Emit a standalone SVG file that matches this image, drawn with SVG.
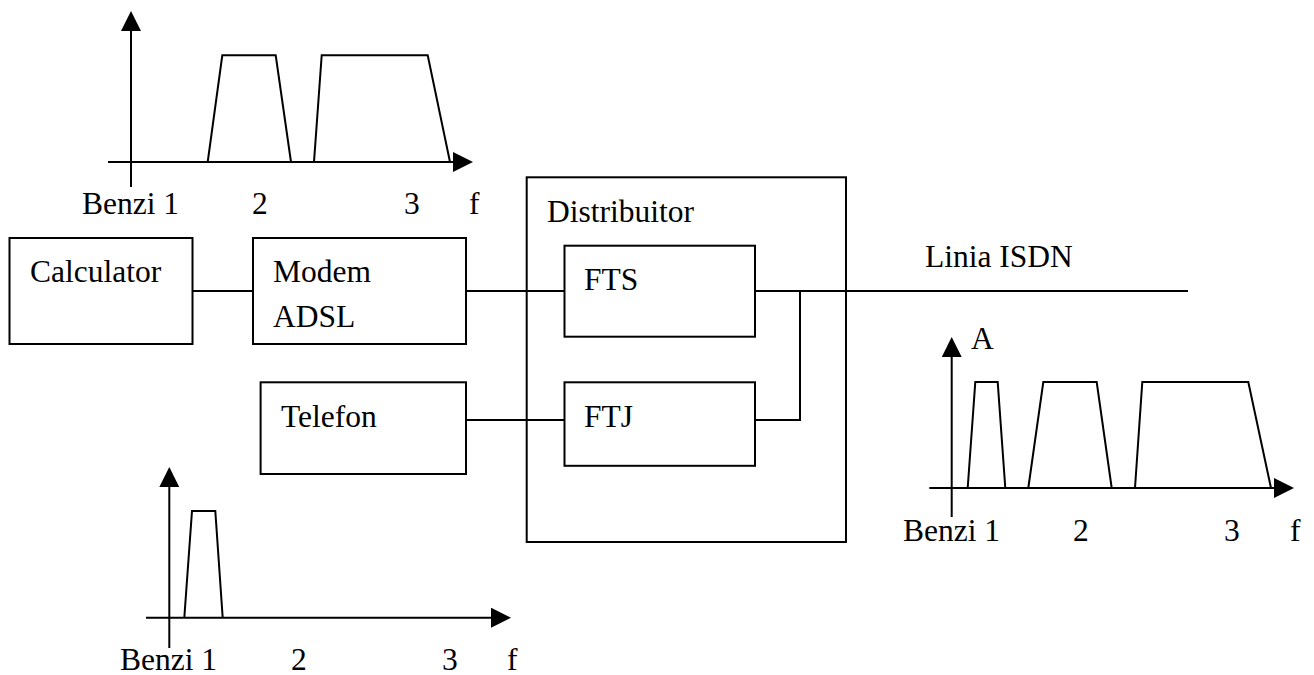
<svg xmlns="http://www.w3.org/2000/svg" width="1314" height="675" viewBox="0 0 1314 675">
<style>
.box{fill:none;stroke:#000;stroke-width:2}
.ln{fill:none;stroke:#000;stroke-width:2}
.ax{fill:none;stroke:#000;stroke-width:2;marker-end:url(#ah)}
text{font-family:"Liberation Serif","Times New Roman",serif;font-size:31.5px;fill:#000}
</style>
<defs>
<marker id="ah" viewBox="0 0 20 20" refX="0" refY="10" markerWidth="20" markerHeight="20" markerUnits="userSpaceOnUse" orient="auto">
<path d="M0,0 L20,10 L0,20 z" fill="#000"/>
</marker>
</defs>
<rect width="1314" height="675" fill="#fff"/>

<g id="spectrum-top">
<line class="ax" x1="131" y1="187" x2="131" y2="31"/>
<line class="ax" x1="108" y1="162" x2="453" y2="162"/>
<polyline class="ln" points="207.7,162 222.3,55.3 275.7,55.3 291,162"/>
<polyline class="ln" points="314,162 321.7,55.3 427.7,55.3 450,162"/>
<text x="82" y="214">Benzi 1</text>
<text x="252" y="214">2</text>
<text x="404" y="214">3</text>
<text x="469" y="214">f</text>
</g>

<g id="spectrum-bottom">
<line class="ax" x1="169.3" y1="648" x2="169.3" y2="487"/>
<line class="ax" x1="146" y1="617.7" x2="491" y2="617.7"/>
<polyline class="ln" points="184.3,617.7 192,511 215.3,511 222.7,617.7"/>
<text x="120" y="670">Benzi 1</text>
<text x="291" y="670">2</text>
<text x="442" y="670">3</text>
<text x="507" y="670">f</text>
</g>

<g id="spectrum-right">
<line class="ax" x1="951.7" y1="517" x2="951.7" y2="357"/>
<line class="ax" x1="929.3" y1="488" x2="1274" y2="488"/>
<polyline class="ln" points="967.7,488 975.3,382 997.7,382 1005.3,488"/>
<polyline class="ln" points="1028.3,488 1043.3,382 1096.7,382 1111.7,488"/>
<polyline class="ln" points="1135,488 1142.3,382 1248.3,382 1271,488"/>
<text x="971" y="349">A</text>
<text x="903" y="541">Benzi 1</text>
<text x="1073" y="541">2</text>
<text x="1224" y="541">3</text>
<text x="1290" y="541">f</text>
</g>

<g id="connectors">
<line class="ln" x1="192.5" y1="291" x2="253" y2="291"/>
<line class="ln" x1="466" y1="291" x2="564.5" y2="291"/>
<line class="ln" x1="466" y1="420" x2="564.5" y2="420"/>
<line class="ln" x1="755" y1="291" x2="1188" y2="291"/>
<polyline class="ln" points="755,420 800,420 800,291"/>
</g>

<g id="calculator">
<rect class="box" x="9.5" y="238" width="183" height="106"/>
<text x="30" y="282">Calculator</text>
</g>
<g id="modem">
<rect class="box" x="253" y="238" width="213" height="106"/>
<text x="273" y="282">Modem</text>
<text x="273" y="327">ADSL</text>
</g>
<g id="telefon">
<rect class="box" x="260.6" y="382.3" width="205.4" height="91.7"/>
<text x="281" y="427">Telefon</text>
</g>
<g id="distribuitor">
<rect class="box" x="526.7" y="177.3" width="319.3" height="364.7"/>
<text x="547" y="222">Distribuitor</text>
</g>
<g id="fts">
<rect class="box" x="564.5" y="245.7" width="190.5" height="91"/>
<text x="584" y="290">FTS</text>
</g>
<g id="ftj">
<rect class="box" x="564.5" y="382.3" width="190.5" height="83.5"/>
<text x="584" y="427">FTJ</text>
</g>
<g id="linia">
<text x="925" y="267">Linia ISDN</text>
</g>
</svg>
